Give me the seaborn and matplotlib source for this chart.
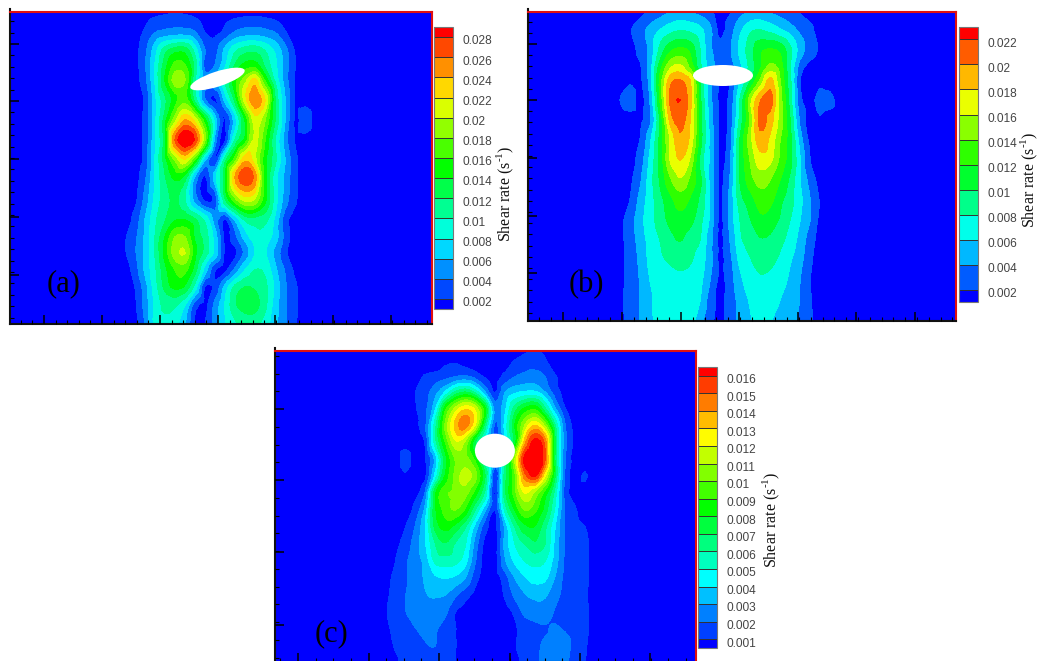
import numpy as np
import matplotlib
matplotlib.use('Agg')
import matplotlib.pyplot as plt
import matplotlib.tri as mtri
import seaborn as sns
from matplotlib.patches import Ellipse
from matplotlib.ticker import AutoMinorLocator
from matplotlib.transforms import ScaledTranslation

# Shear rate fields, in units of 0.001 1/s
# Coordinates are reference pixels, the original axes have no tick labels

x_a = [125, 135, 145, 155, 165, 175, 185, 195, 205, 215, 225, 235, 245, 255, 265, 275, 285, 295, 305]
y_a = [12, 22, 33, 50, 65, 80, 100, 120, 140, 160, 177, 200, 220, 237, 253, 270, 287, 305, 324]
z_a = [
    [1, 1, 1, 1.2, 1.6, 1.9, 1.6, 1.2, 1, 1, 1, 1, 1, 1, 1, 1, 1, 1, 1],
    [1, 1, 1.7, 2.6, 3, 3.2, 3.1, 2.6, 1.5, 1.2, 1.8, 2.5, 3, 3.1, 2.7, 2.2, 1.5, 1, 1],
    [1, 1.3, 2.3, 4, 4.7, 5, 5, 4.2, 2, 1.5, 2.6, 4.3, 5, 5, 4.8, 4.1, 2.2, 1, 1],
    [1, 1.4, 3.4, 7, 11, 13, 13, 9, 4, 3.3, 6.4, 9.5, 11, 11.3, 9.8, 7.6, 4.7, 1.8, 1],
    [1, 1.3, 3.6, 8, 13, 16.5, 16, 11, 3, 4, 7.5, 12, 14.5, 14.8, 11.5, 8.5, 5, 2, 1],
    [1, 1.3, 3.3, 8, 14, 19, 18, 10, 5, 6, 10, 15, 19, 22.5, 15.5, 9.5, 5, 1.9, 1],
    [1, 1.1, 2.3, 7.3, 11.5, 15, 17, 11, 4, 1.6, 6.5, 12.5, 21, 25.5, 22, 12, 6, 1.9, 1.5],
    [1, 1.1, 2.5, 7.5, 13, 19, 24, 21, 14.5, 7, 1.8, 7, 14, 21, 18, 12, 6, 1.7, 2.8],
    [1, 1.1, 2.6, 7.5, 13, 26, 30, 27.5, 18, 5, 1.5, 10, 14.5, 20.5, 16, 10, 5, 1.9, 1.5],
    [1, 1.1, 2.6, 8, 13, 18, 21.5, 15.5, 6, 2, 11, 17, 23.5, 20.5, 14.5, 10.5, 6, 2.5, 1],
    [1, 1.1, 3.5, 8, 11.8, 14.5, 13, 5.5, 1.7, 7, 13, 24, 27.5, 25, 14.8, 8.8, 5.5, 2.5, 1],
    [1, 1.5, 4.6, 8.5, 11, 12.3, 10, 5, 1.6, 2.5, 11.5, 17, 20.5, 19.5, 14.5, 9, 5, 2.3, 1],
    [1, 2.7, 6, 9.5, 11.8, 13.8, 14, 12.3, 9.5, 5, 1.7, 6, 10.2, 11, 10.5, 7.5, 2.8, 1, 1],
    [1.8, 3.5, 6.3, 10, 14, 18, 18, 13.5, 11, 7, 1.5, 3.3, 6.8, 9, 9, 7, 3.3, 1, 1],
    [1.8, 3.7, 6.5, 10, 14.7, 19, 20, 14.5, 11, 7.3, 1.5, 1.5, 4.5, 8, 8.2, 5.4, 2.5, 1, 1],
    [1, 3, 6.3, 9.5, 13.3, 16, 16.5, 12.7, 7, 2, 1.5, 4.5, 8, 10, 9.5, 6.5, 3.8, 1.6, 1],
    [1, 2, 5, 9, 12.5, 14.5, 13.5, 9, 1.7, 2.4, 6.6, 10.5, 12, 11.7, 10.5, 7.5, 4.3, 2.3, 1],
    [1, 1.6, 4.7, 8.5, 10.5, 10.3, 8, 2.8, 1.5, 4.5, 8, 11.6, 12.7, 12.7, 10.5, 7, 4.3, 2.4, 1],
    [1, 1.3, 4, 8.5, 9.3, 8.5, 6, 1.7, 1.8, 4.8, 7.7, 9.5, 10.5, 10.5, 9, 6.5, 4.2, 2.2, 1],
]
levels_a = [0.002, 0.004, 0.006, 0.008, 0.01, 0.012, 0.014, 0.016, 0.018, 0.02, 0.022, 0.024, 0.026, 0.028]
labels_a = ['0.002', '0.004', '0.006', '0.008', '0.01', '0.012', '0.014', '0.016', '0.018', '0.02', '0.022', '0.024', '0.026', '0.028']

x_b = [620, 630, 640, 650, 660, 670, 680, 690, 700, 710, 720, 730, 740, 750, 760, 770, 780, 790, 800, 810, 820, 830]
y_b = [12, 30, 50, 67, 80, 100, 120, 140, 160, 180, 200, 220, 240, 260, 280, 300, 322]
z_b = [
    [1, 1, 1.3, 2.3, 3, 3.9, 4.5, 4, 3.2, 2.4, 1.3, 1.7, 3.2, 4.2, 4.3, 3.8, 3, 2.5, 1.8, 1, 1, 1],
    [1, 1.8, 3.2, 4.6, 6, 7.2, 7.8, 7.5, 6.5, 4.5, 1.5, 3, 5.5, 7.5, 8, 7.3, 6.2, 5, 3.5, 2.5, 1, 1],
    [1, 1.4, 2.5, 4.5, 8.5, 11.5, 12.5, 11.5, 8, 4.5, 2.5, 3.7, 6.5, 9, 11.5, 12.2, 11.5, 8.5, 5, 3, 1.7, 1],
    [1, 1.2, 1.7, 5, 11, 15.5, 16.5, 13.5, 8.5, 5, 3, 3, 5.5, 8.5, 11.5, 14.5, 13, 8, 3, 1.3, 1, 1],
    [1, 1.7, 1.6, 4.8, 12.5, 19, 20, 18, 10, 4.5, 2, 2, 6, 9.5, 14, 18.5, 14, 8.5, 2, 1.2, 1.5, 1.2],
    [2, 2.8, 1.4, 4, 12, 20.2, 22, 18.7, 10.5, 4.7, 1.6, 2.5, 8, 15, 19.7, 21, 15, 9, 2.5, 1.6, 2.5, 2.4],
    [1.1, 1.2, 1.6, 3.5, 10, 18.5, 20.8, 18, 11, 5.2, 1.6, 2.6, 8.5, 14, 20.5, 19, 15, 10, 3.5, 1.5, 1.8, 1.2],
    [1, 1.2, 2, 5.5, 10.5, 16, 19.5, 17.5, 11, 5.5, 1.6, 3, 10, 15, 19.2, 17.5, 14, 10.7, 5, 1.5, 1, 1],
    [1, 1.3, 2.8, 6.4, 10.5, 16, 18, 15.7, 9.5, 5.6, 1.6, 3.5, 10, 14, 17, 16.5, 13.5, 10.7, 6, 2, 1, 1],
    [1, 1.6, 3.6, 7, 10.2, 13.5, 15.7, 13.5, 10.5, 5.4, 1.6, 4, 10, 13, 14.8, 14, 12, 9.5, 6, 3.2, 1.3, 1],
    [1, 2, 4.6, 7, 9.2, 11.3, 12.8, 11.7, 9.5, 5.6, 1.6, 4.5, 9, 11, 12.8, 12.5, 10.5, 8.8, 6.5, 4, 1.8, 1],
    [1.5, 3, 5.2, 7.1, 8.9, 10.5, 11.4, 10.6, 8.6, 5.6, 1.6, 4.6, 8, 9.8, 11.5, 11, 9.7, 8, 6, 4, 1.5, 1],
    [1.5, 2.9, 4.8, 6.7, 8, 9.3, 10.1, 9, 8, 4.7, 1.6, 4, 7.5, 8.8, 9.8, 9.6, 8.5, 7.2, 5.2, 3, 1.2, 1],
    [1.5, 2.7, 4.4, 6.5, 7.6, 8.2, 8.6, 8.2, 7, 4.7, 1.6, 3.4, 6.5, 7.8, 8.8, 8.5, 7.6, 6.2, 4.6, 2.4, 1.1, 1],
    [1.5, 2.7, 4.1, 6, 7, 7.5, 7.6, 7.4, 6.5, 4, 1.6, 3, 5.5, 7, 7.7, 7.5, 6.8, 5.6, 4, 2, 1, 1],
    [1.6, 2.8, 4, 5.6, 6.9, 7.3, 7.4, 7.1, 6, 3, 1.6, 2.8, 4.7, 6.2, 7.3, 7, 6, 5, 3.9, 2.2, 1, 1],
    [1.5, 2.8, 4.1, 5.5, 6.8, 7.1, 7.2, 6.8, 4.6, 2.4, 1.6, 2.8, 4.6, 5.7, 7, 6.1, 5.2, 4.6, 3.6, 2.4, 1, 1],
]
levels_b = [0.002, 0.004, 0.006, 0.008, 0.01, 0.012, 0.014, 0.016, 0.018, 0.02, 0.022]
labels_b = ['0.002', '0.004', '0.006', '0.008', '0.01', '0.012', '0.014', '0.016', '0.018', '0.02', '0.022']

x_c = [385, 395, 405, 415, 425, 435, 445, 455, 465, 475, 485, 495, 505, 515, 525, 535, 545, 555, 565, 575, 585, 595]
y_c = [351, 364, 377, 391, 408, 425, 442, 459, 476, 493, 510, 527, 544, 561, 578, 595, 612, 629, 646, 663]
z_c = [
    [.5, .5, .5, .5, .5, .5, .5, .5, .5, .5, .5, .5, .5, .5, .8, 1.05, .8, .5, .5, .5, .5, .5],
    [.5, .5, .5, .5, .5, .5, .9, 1.02, .8, .5, .5, .5, .6, 1.2, 1.6, 1.7, 1.2, .6, .5, .5, .5, .5],
    [.5, .5, .5, .6, 1.1, 1.4, 1.7, 2, 2.2, 1.7, .9, .5, 1.3, 2, 2.3, 2.4, 2, 1.1, .6, .5, .5, .5],
    [.5, .5, .5, .95, 1.5, 2.5, 3.8, 5.7, 6.6, 5.3, 2.7, .8, 2.8, 3.6, 3.9, 3.9, 2.8, 1.4, .7, .5, .5, .5],
    [.5, .5, .5, .9, 1.7, 3.6, 8.3, 11, 12.6, 11.6, 8, 2.5, 3.7, 6.4, 8, 8.5, 6, 3, 1, .7, .5, .5],
    [.5, .5, .5, .8, 1.7, 5.4, 10, 13.2, 14.5, 12, 6.5, 1.8, 4.3, 8, 11, 12.9, 10.5, 6, 2, .7, .5, .5],
    [.5, .5, .7, .6, 1, 5.4, 8.9, 11.7, 10.8, 7, 4.5, 2, 4, 7.5, 13.5, 16.5, 14.5, 7, 2.3, .8, .5, .5],
    [.5, .5, 1.3, .7, .8, 3.2, 7.4, 10, 10.4, 8.7, 5, 2.5, 6, 11, 16.5, 17.5, 15, 6.8, 2, .7, .5, .5],
    [.5, .5, .9, .6, .7, 4.2, 8, 10.2, 11.4, 10.4, 7, 1, 6.5, 9.7, 14.5, 16, 12, 7, 1.8, .7, 1.1, .5],
    [.5, .5, .5, .7, 2, 7.7, 9.7, 10.2, 10.4, 8.5, 5.7, .7, 6.6, 9.6, 12, 10.6, 8.5, 5.5, 1.5, .7, .5, .5],
    [.5, .5, .5, 1.3, 3.2, 7.7, 9.3, 10, 8.8, 6, 3.2, 1, 5.2, 8, 10, 9.2, 7.5, 4.8, 1.9, 1.1, .5, .5],
    [.5, .5, .95, 2, 3.9, 7.2, 8.3, 7.6, 6.1, 3.6, 1.4, .7, 3.2, 6, 7.7, 7.9, 6.2, 4, 1.9, 1.3, 1, .5],
    [.5, .7, 1.4, 2.4, 3.8, 5.9, 6.9, 5.9, 5.1, 2.6, .7, .5, 3.3, 5, 6, 6.8, 6, 3.7, 1.9, 1.5, 1.2, .6],
    [.5, .95, 1.8, 2.5, 3.3, 5.2, 5.5, 5.3, 4.4, 2.1, .5, .5, 2.8, 4.2, 5, 5.3, 5, 3.5, 1.8, 1.5, 1.2, .6],
    [.7, 1.2, 1.8, 2.5, 3.1, 3.8, 4, 3.8, 3, 1.4, .5, .5, 1.5, 3, 3.9, 4.4, 4.2, 2.9, 1.7, 1.5, 1.2, .6],
    [.8, 1.3, 1.95, 2.4, 2.9, 3.1, 3, 2.2, 1.4, .7, .5, .5, 1.1, 2.2, 2.9, 3.2, 3.1, 2.4, 1.6, 1.4, 1.1, .6],
    [.9, 1.4, 1.95, 2.3, 2.6, 2.5, 2.2, 1, .6, .5, .5, .5, .6, 1.2, 2.3, 2.6, 2.6, 1.9, 1.5, 1.4, 1.2, .6],
    [.8, 1.2, 1.6, 1.95, 2.2, 2.1, 1.6, 1.05, .5, .5, .5, .5, .6, .9, 1.3, 1.6, 1.9, 2.1, 1.9, 1.5, 1.2, .6],
    [.6, 1.05, 1.3, 1.6, 1.9, 2, 1.5, 1.05, .5, .5, .5, .5, .5, .95, 1.3, 1.7, 2.2, 2.4, 2.4, 1.6, 1.1, .5],
    [.5, .85, 1.2, 1.4, 1.5, 1.5, 1.3, 1, .5, .5, .5, .5, .5, .8, 1.2, 1.7, 2.3, 2.4, 2.2, 1.5, 1.02, .5],
]
levels_c = [0.001, 0.002, 0.003, 0.004, 0.005, 0.006, 0.007, 0.008, 0.009, 0.01, 0.011, 0.012, 0.013, 0.014, 0.015, 0.016]
labels_c = ['0.001', '0.002', '0.003', '0.004', '0.005', '0.006', '0.007', '0.008', '0.009', '0.01', '0.011', '0.012', '0.013', '0.014', '0.015', '0.016']

sns.set_style('white')
plt.rcParams['font.family'] = ['Liberation Sans', 'DejaVu Sans']
plt.rcParams['mathtext.fontset'] = 'custom'
plt.rcParams['mathtext.rm'] = 'Liberation Serif'

W, H = 1039, 661
fig = plt.figure(figsize=(W / 100, H / 100), dpi=100)


def px_axes(x0, y0, x1, y1):
    return fig.add_axes([x0 / W, 1 - y1 / H, (x1 - x0) / W, (y1 - y0) / H])


def draw_panel(box, cbox, x, y, z, levels, labels, xmajor, ymajor, nminor, ell, tag, tagpos, shear_y, shear_x):
    x0, y0, x1, y1 = box
    ax = px_axes(x0, y0, x1, y1)
    ax.set_axisbelow(False)
    # background value outside the plume
    bg = np.min(z)
    zz = np.pad(np.array(z, dtype=float), ((0, 0), (2, 2)), constant_values=bg) * 1e-3
    xx = [x0, x[0] - 12] + list(x) + [x[-1] + 12, x1]
    gx, gy = np.meshgrid(xx, y)
    # smooth the contours a bit, the grid is coarse
    tri = mtri.Triangulation(gx.ravel(), gy.ravel())
    interp = mtri.CubicTriInterpolator(tri, zz.ravel(), kind='geom')
    tri2, z2 = mtri.UniformTriRefiner(tri).refine_field(zz.ravel(), interp, subdiv=2)
    colors = sns.blend_palette(['#0000ff', '#00ffff', '#00ff00', '#ffff00', '#ff0000'], len(levels) + 1)
    cf = ax.tricontourf(tri2, z2, levels=levels, colors=colors, extend='both')
    cf.set_edgecolor('face')
    cf.set_linewidth(0.3)
    ax.add_patch(Ellipse(ell[:2], ell[2], ell[3], angle=ell[4], facecolor='white', edgecolor='none', zorder=5))
    ax.set_xlim(x0, x1)
    ax.set_ylim(y1, y0)

    ax.set_xticks(xmajor)
    ax.set_yticks(ymajor)
    ax.xaxis.set_minor_locator(AutoMinorLocator(nminor))
    ax.yaxis.set_minor_locator(AutoMinorLocator(nminor))
    ax.tick_params(which='major', direction='in', length=6.5, width=1.1, color='black', bottom=True, left=True,
                   labelbottom=False, labelleft=False)
    ax.tick_params(which='minor', direction='in', length=3, width=0.8, color='black', bottom=True, left=True)
    for side, col in [('top', '#e01010'), ('right', '#e01010'), ('left', '#111111'), ('bottom', '#111111')]:
        ax.spines[side].set_color(col)
        ax.spines[side].set_linewidth(1.5)
        ax.spines[side].set_visible(True)
    ax.spines['left'].set_bounds(y1, y0 - 3)

    ax.text(tagpos[0], tagpos[1], tag, family='Liberation Serif', fontsize=22, ha='center', va='center', color='black')

    cax = px_axes(*cbox)
    cb = fig.colorbar(cf, cax=cax, ticks=levels, drawedges=True, extendrect=True,
                      extendfrac=0.5 / (len(levels) - 1))
    cb.ax.set_yticklabels(labels)
    cb.outline.set_edgecolor('#777777')
    cb.outline.set_linewidth(0.8)
    cb.dividers.set_color('#333333')
    cb.dividers.set_linewidth(0.7)
    cb.ax.tick_params(length=0, pad=7, labelsize=8.6, labelcolor='#444444')
    offset = ScaledTranslation(0, -2.8 / 100, fig.dpi_scale_trans)
    for t in cb.ax.get_yticklabels():
        t.set_transform(t.get_transform() + offset)

    fig.text(shear_x / W, 1 - shear_y / H, 'Shear rate (s$^{\\text{-}1}$)', family='Liberation Serif', fontsize=11.5,
             rotation=90, ha='center', va='center', color='#111111')


draw_panel((10, 12, 432, 324), (434, 27, 453, 309), x_a, y_a, z_a, levels_a, labels_a,
           [44, 102, 160, 218, 275, 333, 391], [44, 101, 159, 217, 275], 5,
           (217.5, 79, 57, 15, -18), '(a)', (64, 284), 194, 505)
draw_panel((528, 12, 956, 321), (959, 27, 978, 302), x_b, y_b, z_b, levels_b, labels_b,
           [563, 622, 681, 739, 798, 856, 915], [44, 100, 158, 216, 273], 5,
           (723, 75.5, 60, 21, 0), '(b)', (586, 285), 180, 1029)
draw_panel((275, 351, 696, 662), (698, 367, 717, 648), x_c, y_c, z_c, levels_c, labels_c,
           [298, 368.5, 439, 510, 580, 650], [409, 480, 552, 625], 4,
           (494.9, 450.7, 40, 34, 0), '(c)', (332, 634), 520, 771)

fig.savefig('out.png', dpi=100)
plt.close()
